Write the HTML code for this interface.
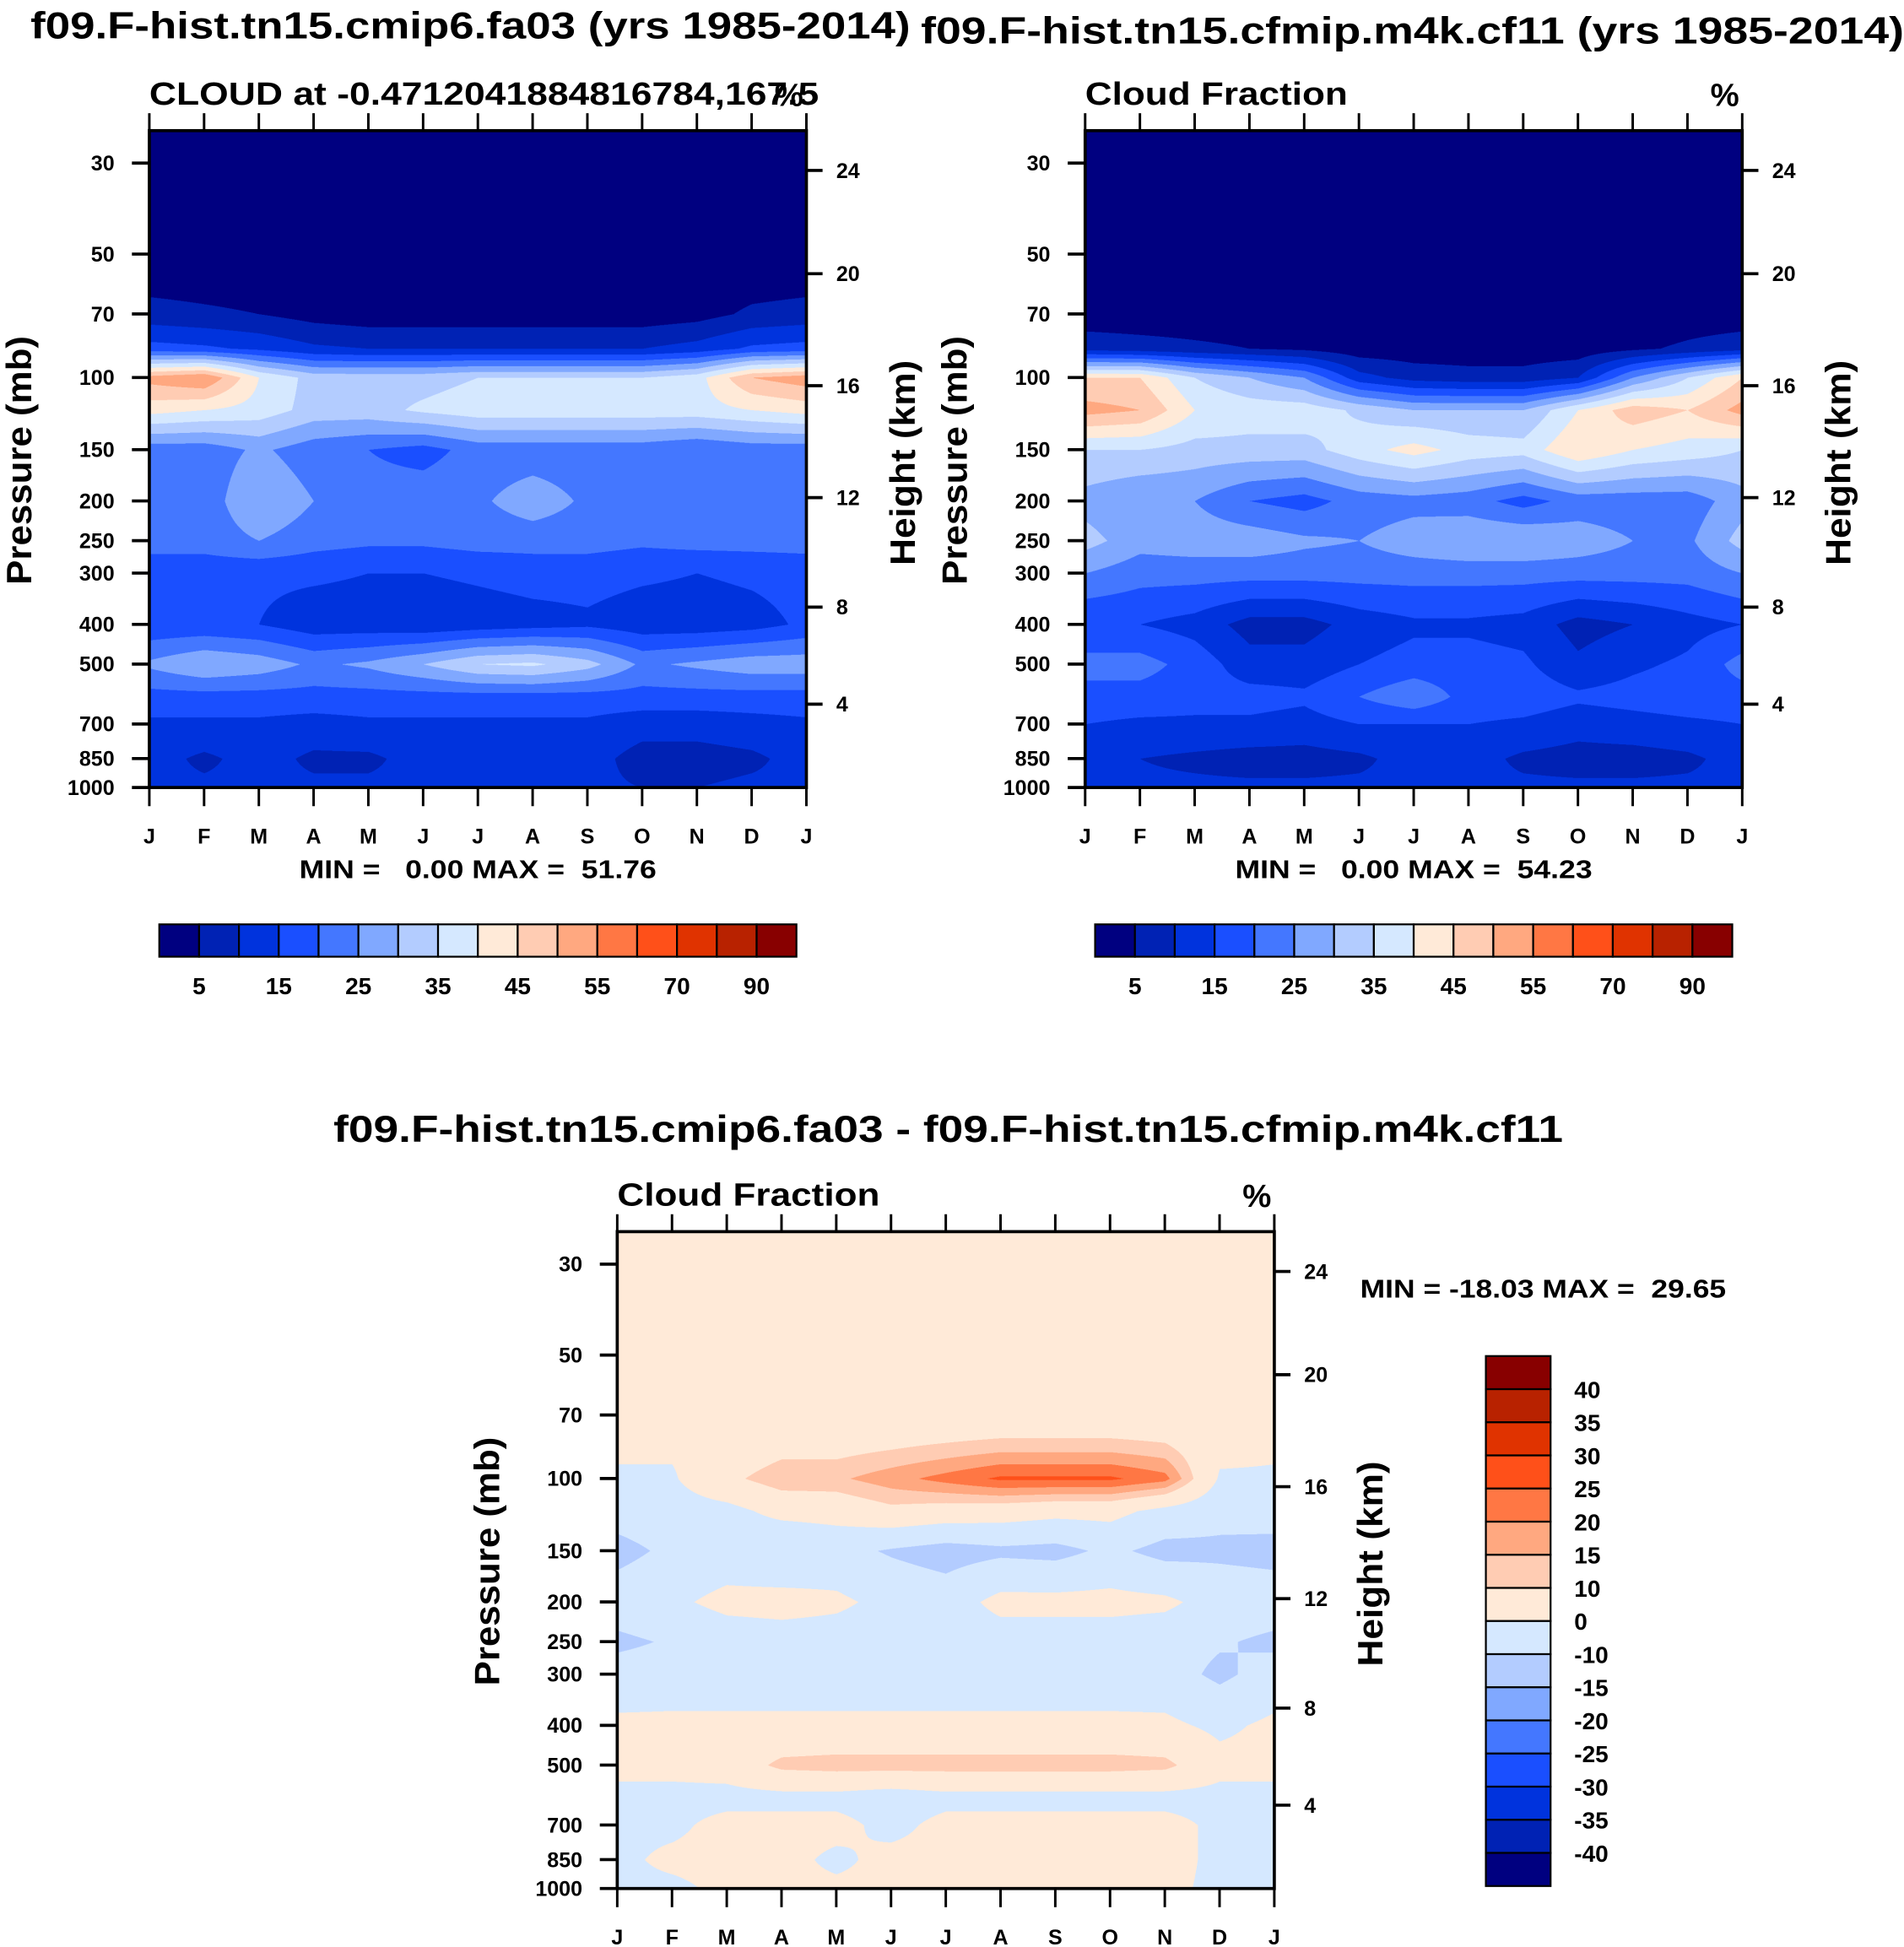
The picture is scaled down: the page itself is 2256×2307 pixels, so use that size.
<!DOCTYPE html>
<html><head><meta charset="utf-8">
<style>
html,body{margin:0;padding:0;background:#fff;overflow:hidden}
#wrap{position:absolute;left:0;top:0;width:1530px;height:1565px;transform-origin:0 0;transform:scale(1.47451,1.47412)}
canvas{position:absolute;width:528px;height:528px}
svg{position:absolute;left:0;top:0}
text{font-family:"Liberation Sans",Arial,sans-serif;font-weight:bold;fill:#000;white-space:pre}
</style></head>
<body>
<div id="wrap">
<canvas id="c1" style="left:120px;top:105px"></canvas>
<canvas id="c2" style="left:872px;top:105px"></canvas>
<canvas id="c3" style="left:496px;top:990px"></canvas>
<svg id="s" width="1530" height="1565" viewBox="0 0 1530 1565"></svg>
</div>
<script>
// ---- data ----
const months = ["J","F","M","A","M","J","J","A","S","O","N","D","J"];
const levels = [25,30,50,70,85,100,120,150,200,250,300,400,500,600,700,850,1000];
const pressureTicks = [30,50,70,100,150,200,250,300,400,500,700,850,1000];
const heightTicks = [24,20,16,12,8,4];
const absBounds = [5,10,15,20,25,30,35,40,45,50,55,60,70,80,90];
const absLabels = ["5","15","25","35","45","55","70","90"];
const diffBounds = [-40,-35,-30,-25,-20,-15,-10,0,10,15,20,25,30,35,40];
const diffLabels = ["40","35","30","25","20","15","10","0","-10","-15","-20","-25","-30","-35","-40"];
const palette = ["#000080","#0022b4","#0033dd","#1a4fff","#4477ff","#80a8ff","#b3ccff","#d5e8ff","#ffead8","#ffccb3","#ffa880","#ff7744","#ff5019","#e03300","#b82200","#880000"];
const fa03 = [
 [0,0,0,0,0,0,0,0,0,0,0,0,0],
 [0,0,0,0,0,0,0,0,0,0,0,0,0],
 [0,0,0,0,0,0,0,0,0,0,0,0,0],
 [7,6,5,3,2,2,2,2,2,2,3,6,7],
 [17,16,14,11,10,10,10,10,10,10,12,16,17],
 [52,55,40,33,33,33,35,35,35,35,38,50,53],
 [42,40,38,33,33,36,38,38,38,38,38,40,42],
 [22,22,26,22,20,18,22,22,22,22,20,22,22],
 [22,22,30,25,22,23,24,28,24,22,23,22,22],
 [22,22,25,22,21,21,22,22,22,21,22,22,22],
 [17,17,16,16,15,15,16,17,17,16,15,16,17],
 [16,16,15,12,12,11,12,13,14,12,12,13,16],
 [26,30,28,24,26,30,35,36,32,24,26,28,28],
 [18,18,18,18,18,18,18,18,18,18,18,18,18],
 [14,14,14,13,14,14,14,14,14,12,12,13,14],
 [12,9,12,9,9,12,12,12,12,8,8,9,12],
 [11,11,11,11,11,11,11,11,11,10,10,11,11]];
const cf11 = [
 [0,0,0,0,0,0,0,0,0,0,0,0,0],
 [0,0,0,0,0,0,0,0,0,0,0,0,0],
 [0,0,0,0,0,0,0,0,0,0,0,0,0],
 [2,2,2,2,1,1,1,1,1,1,1,2,2],
 [8,7,6,5,4,2,2,2,2,2,4,6,8],
 [45,45,35,30,25,12,8,7,7,10,25,35,45],
 [52,50,40,38,38,34,30,30,30,40,48,45,52],
 [35,35,33,33,33,38,42,38,37,45,40,38,35],
 [28,25,25,20,18,22,23,22,18,22,22,22,28],
 [32,27,28,28,26,25,28,30,30,28,25,24,32],
 [25,22,22,22,22,22,22,22,22,22,22,22,25],
 [15,15,13,8,8,12,14,14,13,8,10,13,15],
 [22,22,18,12,12,15,17,17,16,11,14,16,22],
 [18,18,17,17,16,20,24,18,18,16,17,18,18],
 [15,14,14,14,13,15,15,15,14,12,13,14,15],
 [12,10,9,8,8,9,12,12,9,8,8,9,12],
 [11,11,11,11,11,11,11,11,11,11,11,11,11]];
const diff = [
 [2,2,2,2,2,2,2,2,2,2,2,2,2],
 [2,2,2,2,2,2,2,2,2,2,2,2,2],
 [2,2,2,2,2,2,2,2,2,2,2,2,2],
 [2,2,2,2,2,2,2,2,2,2,2,2,2],
 [1,1,4,8,8,10,12,14,14,14,12,2,1],
 [-1,-1,8,14,14,18,22,26,26,26,22,-1,-1],
 [-6,-4,-3,3,4,8,6,5,3,3,-3,-7,-6],
 [-13,-8,-6,-10,-7,-11,-14,-12,-13,-8,-13,-12,-13],
 [-5,-2,3,4,2,-3,-5,3,3,3,2,-4,-5],
 [-12,-9,-6,-5,-5,-6,-6,-5,-5,-5,-6,-9,-12],
 [-6,-5,-5,-5,-5,-5,-5,-5,-5,-5,-6,-12,-6],
 [2,2,2,2,2,2,2,2,2,2,2,-2,2],
 [3,3,4,12,13,13,13,13,13,13,12,3,3],
 [-3,-3,-3,-3,-3,-5,-3,-3,-3,-3,-3,-3,-3],
 [-2,-2,3,3,3,-3,3,3,3,3,3,-2,-2],
 [-2,2,3,3,-2,3,3,3,3,3,3,-2,-2],
 [-2,-2,2,2,2,2,2,2,2,2,2,-2,-2]];

// ---- axis functions ----
const W=528,H=528,PTOP=25,PBOT=1000;
const xScale = m => m/12*W;
const yScale = p => (Math.log(p)-Math.log(PTOP))/(Math.log(PBOT)-Math.log(PTOP))*H;
const heightY = [32,115,205,295,383,461];
function colorIdx(v,b){let i=0;while(i<b.length&&v>=b[i])i++;return i;}
function field(data,x,y){
  const m=Math.min(11.9999,Math.max(0,x/W*12));
  const lp=Math.log(PTOP)+y/H*(Math.log(PBOT)-Math.log(PTOP));
  const p=Math.exp(lp);
  let k=0;while(k<levels.length-2&&levels[k+1]<p)k++;
  const t=Math.max(0,Math.min(1,(lp-Math.log(levels[k]))/(Math.log(levels[k+1])-Math.log(levels[k]))));
  const i=Math.floor(m),f=m-i;
  const a=data[k][i]*(1-f)+data[k][i+1]*f;
  const b=data[k+1][i]*(1-f)+data[k+1][i+1]*f;
  return a*(1-t)+b*t;
}
const rgb=palette.map(h=>[parseInt(h.slice(1,3),16),parseInt(h.slice(3,5),16),parseInt(h.slice(5,7),16)]);
function drawField(id,data,bounds){
  const c=document.getElementById(id),R=3;c.width=W*R;c.height=H*R;
  const ctx=c.getContext('2d'),img=ctx.createImageData(W*R,H*R),d=img.data;
  for(let py=0;py<H*R;py++)for(let px=0;px<W*R;px++){
    const col=rgb[colorIdx(field(data,px/R,py/R),bounds)];
    const o=(py*W*R+px)*4;d[o]=col[0];d[o+1]=col[1];d[o+2]=col[2];d[o+3]=255;
  }
  ctx.putImageData(img,0,0);
}
drawField('c1',fa03,absBounds);
drawField('c2',cf11,absBounds);
drawField('c3',diff,diffBounds);

const NS="http://www.w3.org/2000/svg",S=document.getElementById('s');
function el(tag,attrs,txt){const e=document.createElementNS(NS,tag);for(const k in attrs)e.setAttribute(k,attrs[k]);if(txt!=null)e.textContent=txt;S.appendChild(e);return e;}
function txt(x,y,s,size,anchor,name,tl){
  const a={x:x,y:y,'font-size':size,'text-anchor':anchor||'start'};
  if(tl){a.textLength=tl;a.lengthAdjust='spacingAndGlyphs';}
  const e=el('text',a,s);
  
  
  return e;
}
function line(x1,y1,x2,y2,w,name){
  const e=el('line',{x1:x1,y1:y1,x2:x2,y2:y2,stroke:'#000','stroke-width':w||2});
  
  
  return e;
}
function panel(ox,oy,sub,subW,pfx){
  const r=el('rect',{x:ox,y:oy,width:W,height:H,fill:'none',stroke:'#000','stroke-width':2.5});
  
  
  months.forEach((m,i)=>{
    const x=ox+xScale(i);
    line(x,oy,x,oy-14,2,pfx+'-top-tick');
    line(x,oy+H,x,oy+H+15,2,pfx+'-x-tick');
    txt(x,oy+H+45,m,17,'middle',pfx+'-x-tick-label');
  });
  pressureTicks.forEach(p=>{
    const y=oy+yScale(p);
    line(ox,y,ox-14,y,2.5,pfx+'-y-tick');
    txt(ox-28,y+6,String(p),17,'end',pfx+'-y-tick-label');
  });
  heightTicks.forEach((h,i)=>{
    const y=oy+heightY[i];
    line(ox+W,y,ox+W+13,y,2.5,pfx+'-height-tick');
    txt(ox+W+24,y+6,String(h),17,'start',pfx+'-height-tick-label');
  });
  const py=el('text',{x:0,y:0,'font-size':28,'text-anchor':'middle',textLength:200,lengthAdjust:'spacingAndGlyphs',transform:`translate(${ox-95},${oy+265}) rotate(-90)`},'Pressure (mb)');
  
  
  const hy=el('text',{x:0,y:0,'font-size':28,'text-anchor':'middle',textLength:165,lengthAdjust:'spacingAndGlyphs',transform:`translate(${ox+W+87},${oy+267}) rotate(-90)`},'Height (km)');
  
  
  txt(ox,oy-21,sub,26,'start',pfx+'-subtitle',subW);
  txt(ox+W-14,oy-20,'%',26,'middle',pfx+'-units');
}
panel(120,105,'CLOUD at -0.4712041884816784,167.5',538,'p1');
panel(872,105,'Cloud Fraction',211,'p2');
panel(496,990,'Cloud Fraction',211,'p3');
txt(378,31,'f09.F-hist.tn15.cmip6.fa03 (yrs 1985-2014)',30,'middle','p1-title',707);
txt(1135,35,'f09.F-hist.tn15.cfmip.m4k.cf11 (yrs 1985-2014)',30,'middle','p2-title',790);
txt(762,918,'f09.F-hist.tn15.cmip6.fa03 - f09.F-hist.tn15.cfmip.m4k.cf11',30,'middle','p3-title',988);
txt(384,706,'MIN =   0.00 MAX =  51.76',21,'middle','p1-min-max',287);
txt(1136,706,'MIN =   0.00 MAX =  54.23',21,'middle','p2-min-max',287);
txt(1093,1043,'MIN = -18.03 MAX =  29.65',21,'start','p3-min-max',294);

function hbar(ox,pfx){
  palette.forEach((c,i)=>{
    const r=el('rect',{x:ox+i*32,y:743,width:32,height:26,fill:c,stroke:'#000','stroke-width':1.5});
    
    
  });
  absLabels.forEach((l,i)=>txt(ox+32+i*64,799,l,19,'middle',pfx+'-colorbar-label'));
}
hbar(128,'p1');hbar(880,'p2');
const bh=426/16;
palette.slice().reverse().forEach((c,i)=>{
  const r=el('rect',{x:1194,y:1090+i*bh,width:52,height:bh,fill:c,stroke:'#000','stroke-width':1.5});
  
  
});
diffLabels.forEach((l,i)=>txt(1265,1090+(i+1)*bh+7,l,19,'start','p3-colorbar-label'));
</script>
</body></html>
